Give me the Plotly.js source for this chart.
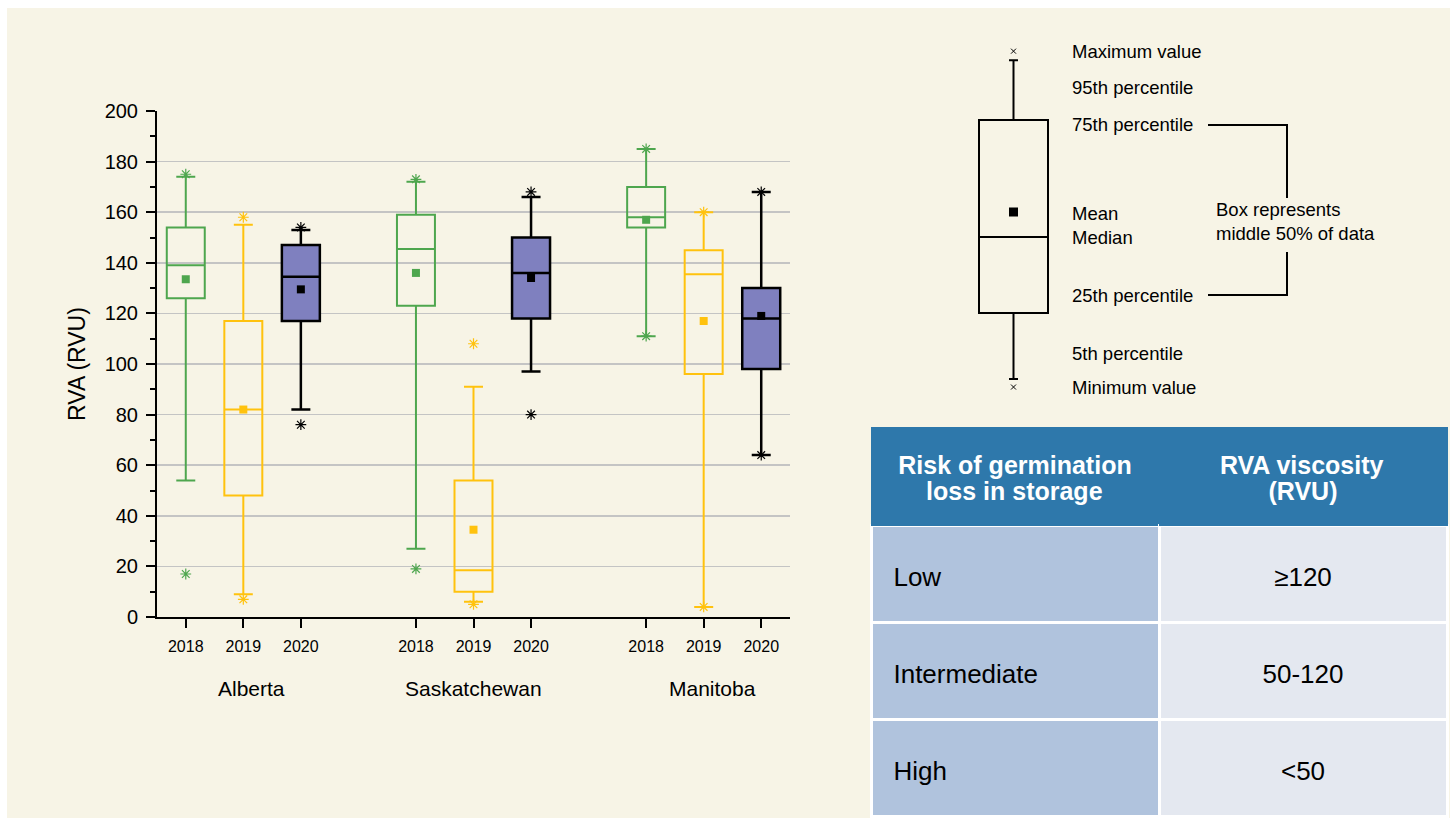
<!DOCTYPE html>
<html><head><meta charset="utf-8">
<script src="https://cdn.plot.ly/plotly-3.0.1.min.js"></script>
<style>
html,body{margin:0;padding:0;background:#ffffff;}
#chart{position:absolute;left:7px;top:8px;width:1443px;height:810px;}
</style></head><body><div id="chart"></div>
<script>
// ---------- data ----------
const provinces = ['Alberta', 'Saskatchewan', 'Manitoba'];
const years = ['2018', '2019', '2020'];
// rows: 2018, 2019, 2020 ; columns: Alberta, Saskatchewan, Manitoba
const minValues    = [[17, 19, 111], [7, 5, 4],        [76, 80, 64]];
const p5Values     = [[54, 27, 111], [9, 6, 4],        [82, 97, 64]];
const q1Values     = [[126, 123, 154], [48, 10, 96],   [117, 118, 98]];
const medianValues = [[139, 145.5, 158], [82, 18.5, 135.5], [134.5, 136, 118]];
const meanValues   = [[133.5, 136, 157], [82, 34.5, 117],   [129.5, 134, 119]];
const q3Values     = [[154, 159, 170], [117, 54, 145], [147, 150, 130]];
const p95Values    = [[174, 172, 185], [155, 91, 160], [153, 166, 168]];
const maxValues    = [[175, 173, 185], [158, 108, 160], [154, 168, 168]];
const yTicks = [0, 20, 40, 60, 80, 100, 120, 140, 160, 180, 200];

// key (explanatory diagram) illustrative statistics
const keyMin = 3.6, keyP5 = 5.8, keyQ1 = 24.2, keyMedian = 45.3, keyMean = 52.2, keyQ3 = 77.8, keyP95 = 94.4, keyMax = 96.9;
const keyLabels = ['Maximum value', '95th percentile', '75th percentile', 'Mean', 'Median', '25th percentile', '5th percentile', 'Minimum value'];
const bracketText = 'Box represents<br>middle 50% of data';

// table
const tableHeader = [['Risk of germination', 'loss in storage'], ['RVA viscosity', '(RVU)']];
const riskLevels = ['Low', 'Intermediate', 'High'];
const viscosityRanges = ['≥120', '50-120', '<50'];

// ---------- styles ----------
const FONT = 'Liberation Sans, Arial, sans-serif';
const lineColors = ['#4EA64E', '#FFC20E', '#000000'];
const fillColors = ['rgba(0,0,0,0)', 'rgba(0,0,0,0)', '#7F80BF'];
const lineWidths = [2, 2, 2.5];
const BG = '#F7F4E6';

// page pixel -> paper helpers (div is at 7,8 size 1443x810)
const W = 1443, H = 810;
const px = x => (x - 7) / W;
const py = y => 1 - (y - 8) / H;

const pos = (p, i) => p * 4 + i;

const traces = [];
years.forEach((yr, i) => {
  const xs = provinces.map((_, p) => pos(p, i));
  traces.push({
    type: 'box', name: yr, x: xs,
    q1: q1Values[i], median: medianValues[i], q3: q3Values[i],
    lowerfence: p5Values[i], upperfence: p95Values[i],
    width: 0.66, whiskerwidth: 0.5, boxpoints: false,
    line: {color: lineColors[i], width: lineWidths[i]},
    fillcolor: fillColors[i], showlegend: false, xaxis: 'x', yaxis: 'y'
  });
  traces.push({
    type: 'scatter', mode: 'markers', x: xs, y: meanValues[i],
    marker: {symbol: 'square', size: 8, color: lineColors[i]},
    showlegend: false, cliponaxis: false
  });
  traces.push({
    type: 'scatter', mode: 'markers', x: xs.concat(xs), y: minValues[i].concat(maxValues[i]),
    marker: {symbol: 'asterisk-open', size: 9, color: lineColors[i], line: {width: 1.2, color: lineColors[i]}},
    showlegend: false, cliponaxis: false
  });
});

// key diagram
traces.push({
  type: 'box', x: [5], q1: [keyQ1], median: [keyMedian], q3: [keyQ3],
  lowerfence: [keyP5], upperfence: [keyP95], width: 6.9, whiskerwidth: 0.13,
  boxpoints: false, line: {color: '#000', width: 2}, fillcolor: 'rgba(0,0,0,0)',
  xaxis: 'x2', yaxis: 'y2', showlegend: false
});
traces.push({
  type: 'scatter', mode: 'markers', x: [5], y: [keyMean], xaxis: 'x2', yaxis: 'y2',
  marker: {symbol: 'square', size: 9, color: '#000'}, showlegend: false
});
traces.push({
  type: 'scatter', mode: 'markers', x: [5, 5], y: [keyMin, keyMax], xaxis: 'x2', yaxis: 'y2',
  marker: {symbol: 'x-thin-open', size: 5, color: '#000', line: {width: 1, color: '#000'}}, showlegend: false
});

// centre each line of a multi-line header by padding with no-break spaces
const ctx = document.createElement('canvas').getContext('2d');
function centred(lines, fontSpec) {
  ctx.font = fontSpec;
  const ws = lines.map(l => ctx.measureText(l).width);
  const mx = Math.max(...ws);
  const nb = ctx.measureText('\u00a0').width || 7;
  return lines.map((l, k) => {
    const n = Math.round((mx - ws[k]) / 2 / nb);
    return '\u00a0'.repeat(n) + l + '\u00a0'.repeat(n);
  });
}
// a small blank first line pushes the text down inside the tall table cells
const spacer = s => '<span style="font-size:' + s + 'px">\u00a0</span><br>';
const HEAD_PX = 25;
const headerValues = tableHeader.map(lines =>
  spacer(13) + centred(lines, 'bold ' + HEAD_PX + 'px "Liberation Sans"')
    .map(l => '<span style="font-size:' + HEAD_PX + 'px"><b>' + l + '</b></span>').join('<br>'));

traces.push({
  type: 'table',
  domain: {x: [px(871), px(1447)], y: [0, py(427)]},
  columnwidth: [1, 1],
  header: {
    values: headerValues,
    align: 'center', height: 98,
    fill: {color: '#2E78AB'}, line: {color: '#2E78AB', width: 1},
    font: {family: FONT, size: 20.5, color: '#ffffff'}
  },
  cells: {
    values: [riskLevels.map(s => spacer(21) + '\u00a0\u00a0' + s), viscosityRanges.map(s => spacer(21) + s)],
    align: ['left', 'center'], height: 97,
    fill: {color: ['#B0C3DD', '#E4E8F0']}, line: {color: '#ffffff', width: 3},
    font: {family: FONT, size: 26, color: '#000000'}
  }
});

const groupShift = [8, 0, 9];
const annotations = provinces.map((p, k) => ({
  text: p, x: pos(k, 1), xref: 'x', y: py(688), yref: 'paper', xshift: groupShift[k],
  showarrow: false, xanchor: 'center', yanchor: 'middle',
  font: {family: FONT, size: 21, color: '#000'}
}));
const keyLabelY = [51, 87, 124, 213, 238, 295, 353, 387];
keyLabels.forEach((t, k) => annotations.push({
  text: t, x: px(1070), xref: 'paper', y: py(keyLabelY[k]), yref: 'paper',
  showarrow: false, xanchor: 'left', yanchor: 'middle',
  font: {family: FONT, size: 18.5, color: '#000'}
}));
annotations.push({
  text: bracketText, x: px(1214), xref: 'paper', y: py(222), yref: 'paper',
  showarrow: false, xanchor: 'left', yanchor: 'middle', align: 'left',
  font: {family: FONT, size: 18.5, color: '#000'}
});

const lineS = (x0, y0, x1, y1) => ({type: 'line', xref: 'paper', yref: 'paper',
  x0: px(x0), y0: py(y0), x1: px(x1), y1: py(y1), line: {color: '#000', width: 2}});
const shapes = [
  lineS(1208, 125, 1288, 125), lineS(1208, 295, 1288, 295),
  lineS(1287, 124, 1287, 198), lineS(1287, 252, 1287, 296)
];

const layout = {
  width: W, height: H,
  margin: {l: 0, r: 0, t: 0, b: 0},
  paper_bgcolor: BG, plot_bgcolor: BG,
  font: {family: FONT, color: '#000'},
  showlegend: false, boxmode: 'overlay',
  xaxis: {
    domain: [px(157), px(790)], range: [-0.5, 10.5],
    tickmode: 'array',
    tickvals: provinces.flatMap((_, p) => years.map((_, i) => pos(p, i))),
    ticktext: provinces.flatMap(() => years),
    showgrid: false, zeroline: false, showline: true, linecolor: '#000', linewidth: 2,
    ticks: 'outside', ticklen: 9, tickwidth: 2, tickcolor: '#000',
    tickfont: {family: FONT, size: 16, color: '#000'}, ticklabelstandoff: 5,
    fixedrange: true
  },
  yaxis: {
    domain: [py(617), py(111)], range: [0, 200],
    tickmode: 'array', tickvals: yTicks,
    showgrid: true, gridcolor: '#C4C4C4', gridwidth: 1.5,
    zeroline: false, showline: true, linecolor: '#000', linewidth: 2,
    ticks: 'outside', ticklen: 9, tickwidth: 2, tickcolor: '#000',
    minor: {dtick: 10, tick0: 0, ticks: 'outside', ticklen: 5, tickwidth: 2, tickcolor: '#000', showgrid: false},
    tickfont: {family: FONT, size: 20, color: '#000'}, ticklabelstandoff: 4,
    title: {text: 'RVA (RVU)', font: {family: FONT, size: 23, color: '#000'}, standoff: 13},
    fixedrange: true
  },
  xaxis2: {domain: [px(963.5), px(1063.5)], range: [0, 10], visible: false, fixedrange: true, anchor: 'y2'},
  yaxis2: {domain: [py(400), py(40)], range: [0, 100], visible: false, fixedrange: true, anchor: 'x2'},
  annotations: annotations,
  shapes: shapes
};

Plotly.newPlot('chart', traces, layout, {displayModeBar: false, staticPlot: true});
</script></body></html>
